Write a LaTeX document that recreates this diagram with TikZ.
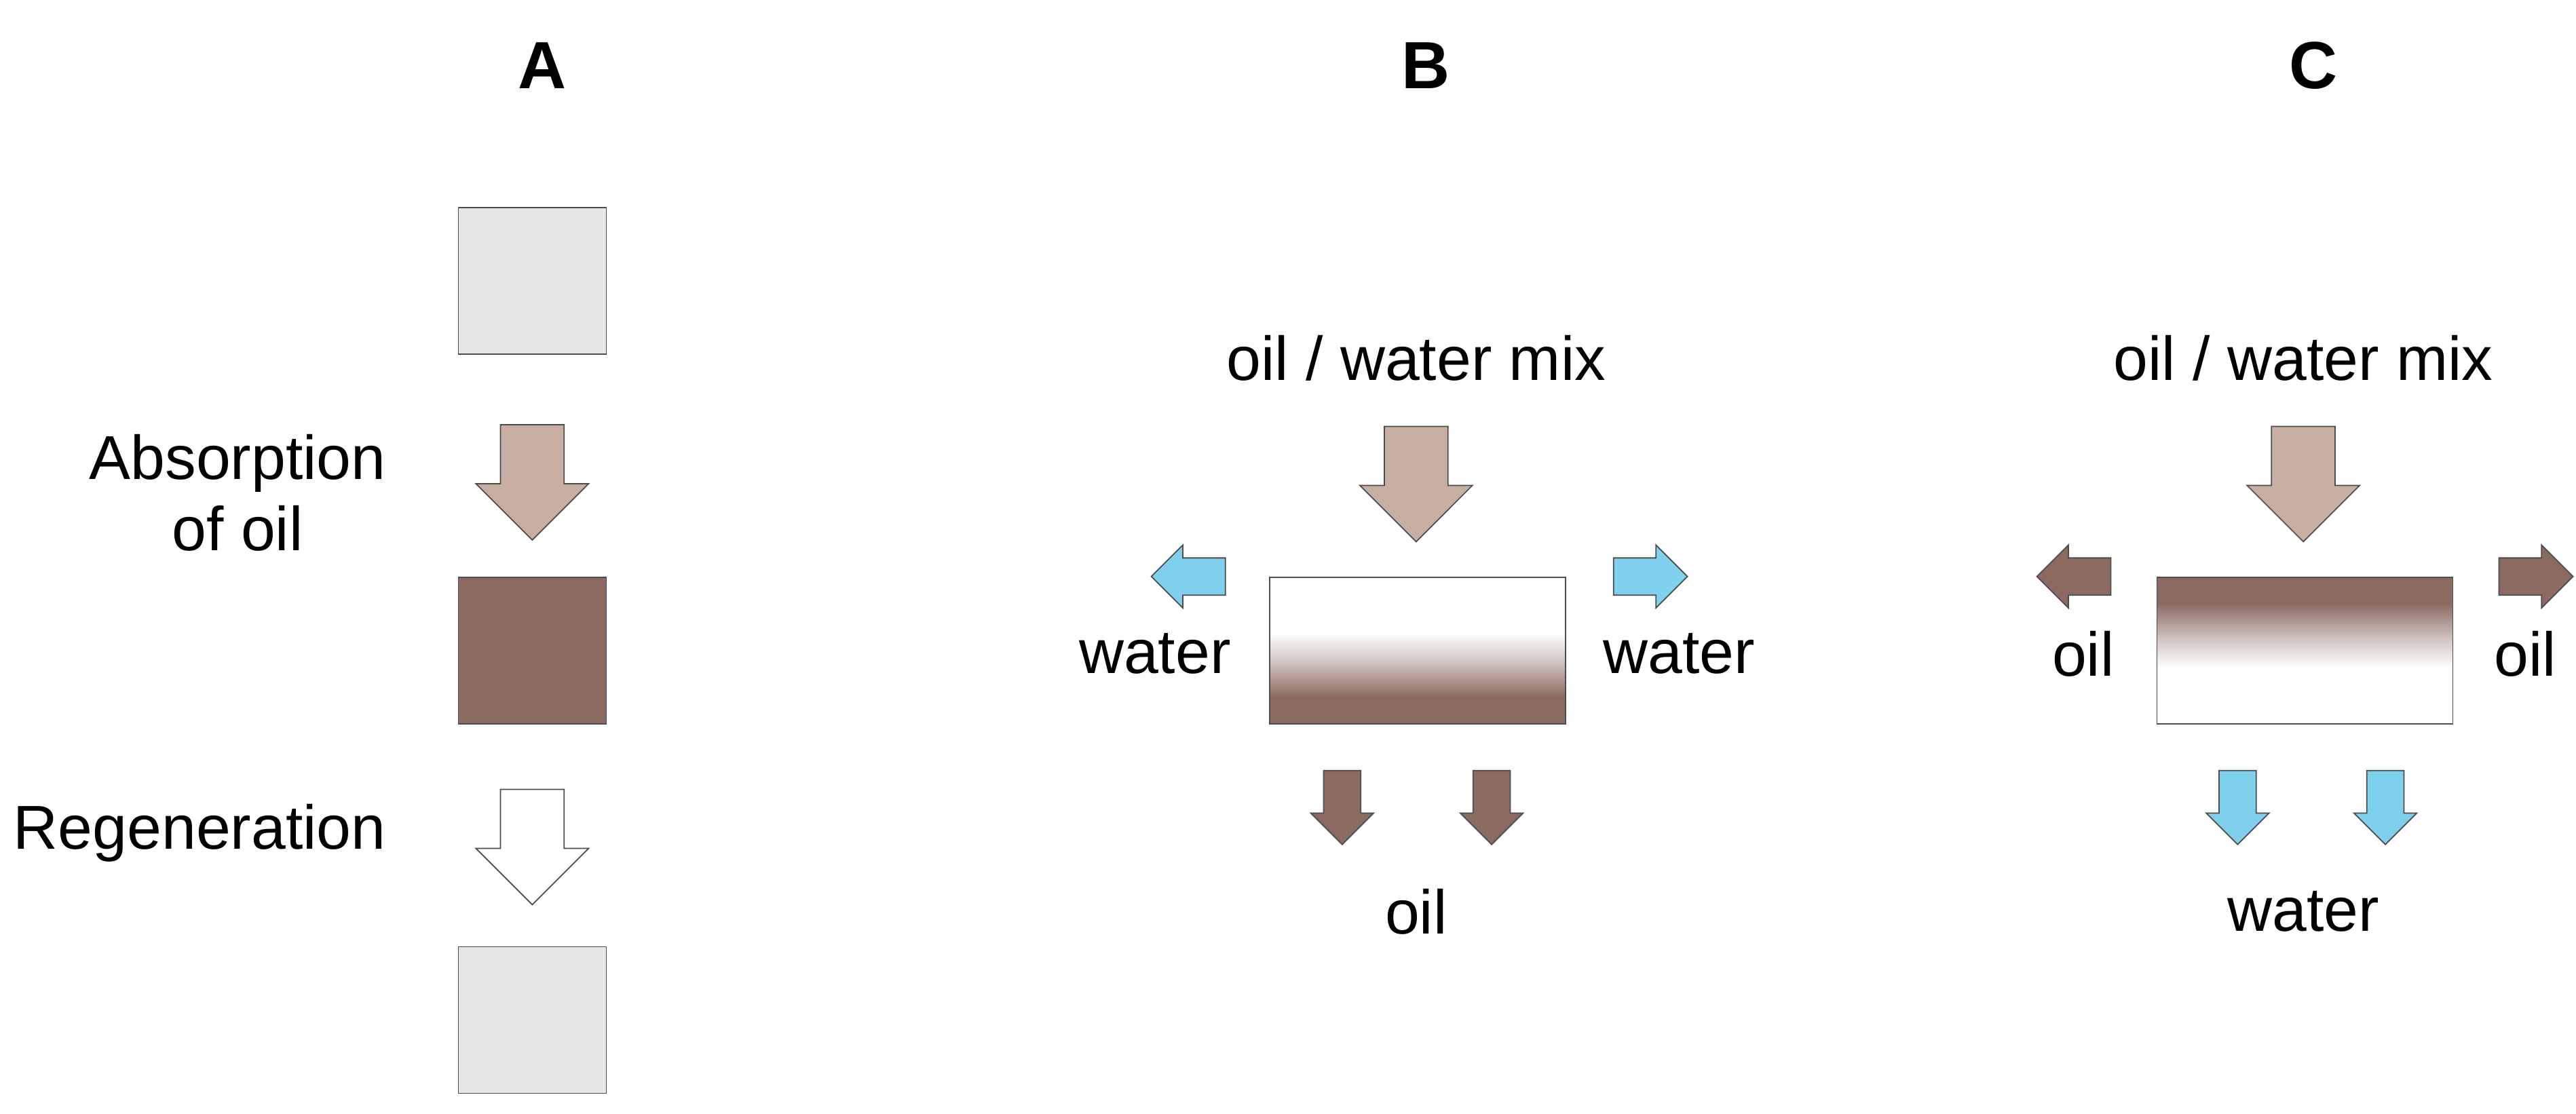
\documentclass[tikz,border=0pt]{standalone}
\usepackage{fontspec}
\setmainfont{Liberation Sans}
\usetikzlibrary{shapes.arrows}
\definecolor{oilbrown}{HTML}{8B6B61}
\definecolor{mixtan}{HTML}{C8AFA3}
\definecolor{waterblue}{HTML}{7FD0EC}
\definecolor{paleblock}{HTML}{E8E7E6}
\pgfdeclareverticalshading{oilbelow}{100bp}{color(0bp)=(oilbrown); color(34bp)=(oilbrown); color(46bp)=(oilbrown!40!white); color(56bp)=(white); color(100bp)=(white)}
\pgfdeclareverticalshading{oilabove}{100bp}{color(0bp)=(white); color(44bp)=(white); color(54bp)=(oilbrown!40!white); color(66bp)=(oilbrown); color(100bp)=(oilbrown)}
\begin{document}
\begin{tikzpicture}[x=0.2421mm,y=-0.2421mm,
    every node/.style={font=\fontsize{26}{30}\selectfont},
    panel/.style={font=\fontsize{28}{30}\selectfont\bfseries},
    block/.style={draw=black!70,line width=0.5pt,minimum width=21.8mm,minimum height=21.6mm,inner sep=0pt},
    bigarrow/.style={single arrow,draw=black!70,line width=0.5pt,shape border rotate=270,
        minimum height=17mm,inner sep=4.6mm,single arrow head extend=3.6mm,single arrow tip angle=90},
    smallarrow/.style={single arrow,draw=black!70,line width=0.5pt,
        minimum height=10.9mm,inner sep=2.65mm,single arrow head extend=1.9mm,single arrow tip angle=90},
    column/.style={draw=black!70,line width=0.5pt,minimum width=43.6mm,minimum height=21.6mm,inner sep=0pt}]
  \useasboundingbox (0,0) rectangle (1568,678);

  % panel A
  \node[panel] (labA) at (330,40) {A};
  \node[block,fill=paleblock] (dry) at (324,171) {};
  \node[bigarrow,fill=mixtan] (absorb) at (324,284) {};
  \node[block,fill=oilbrown] (full) at (324,396) {};
  \node[bigarrow,fill=white] (regen) at (324,506) {};
  \node[block,fill=paleblock] (clean) at (324,621) {};
  \node[align=center,anchor=east] (absorbtxt) at (240,300) {Absorption\\of oil};
  \node[anchor=east] (regentxt) at (240,507) {Regeneration};

  % panel B
  \node[panel] (labB) at (868,40) {B};
  \node (mixB) at (862,218) {oil / water mix};
  \node[bigarrow,fill=mixtan] (inB) at (862,285) {};
  \node[column,shading=oilbelow] (colB) at (863,396) {};
  \node[smallarrow,fill=waterblue,shape border rotate=180] (leftB) at (729,351) {};
  \node[smallarrow,fill=waterblue] (rightB) at (999,351) {};
  \node (wleftB) at (703,398) {water};
  \node (wrightB) at (1022,398) {water};
  \node[smallarrow,fill=oilbrown,shape border rotate=270] (downB1) at (817,486) {};
  \node[smallarrow,fill=oilbrown,shape border rotate=270] (downB2) at (908,486) {};
  \node (oilB) at (862,555) {oil};

  % panel C
  \node[panel] (labC) at (1408,40) {C};
  \node (mixC) at (1402,218) {oil / water mix};
  \node[bigarrow,fill=mixtan] (inC) at (1402,285) {};
  \node[column,shading=oilabove] (colC) at (1403,396) {};
  \node[smallarrow,fill=oilbrown,shape border rotate=180] (leftC) at (1268,351) {};
  \node[smallarrow,fill=oilbrown] (rightC) at (1538,351) {};
  \node (oleftC) at (1268,398) {oil};
  \node (orightC) at (1537,398) {oil};
  \node[smallarrow,fill=waterblue,shape border rotate=270] (downC1) at (1362,486) {};
  \node[smallarrow,fill=waterblue,shape border rotate=270] (downC2) at (1452,486) {};
  \node (waterC) at (1402,555) {water};
\end{tikzpicture}
\end{document}
